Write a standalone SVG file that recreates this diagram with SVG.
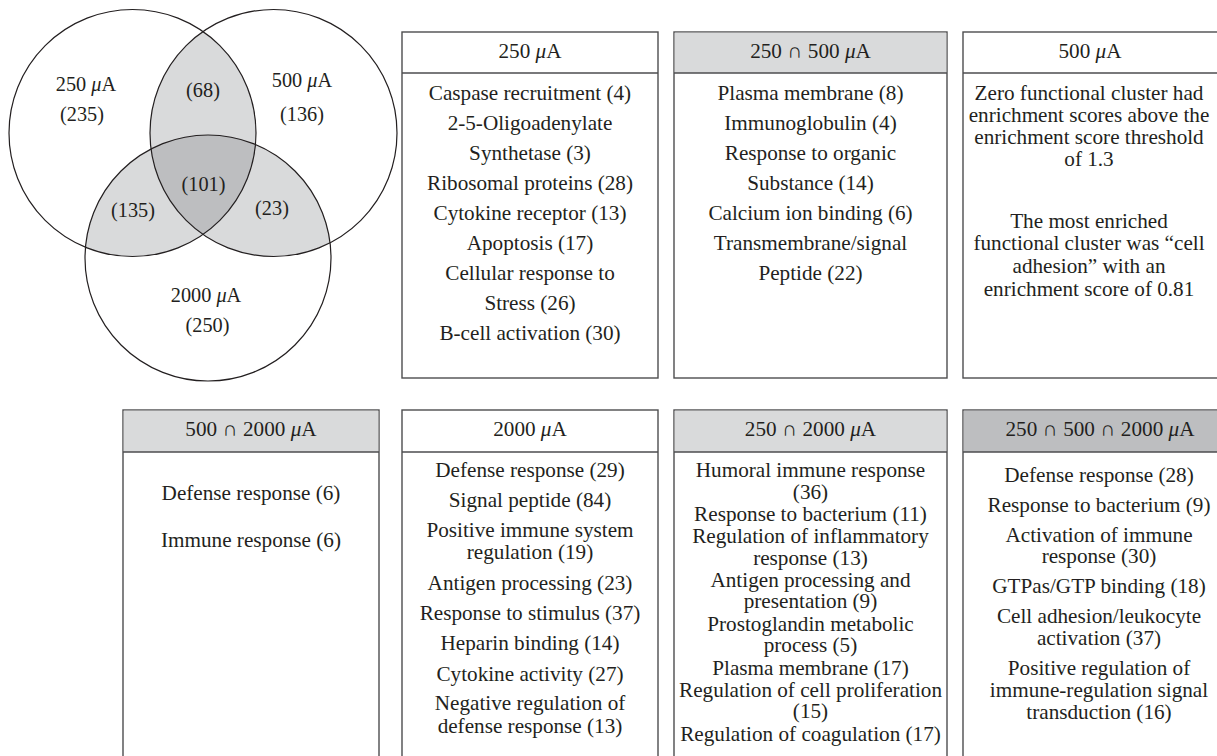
<svg xmlns="http://www.w3.org/2000/svg" width="1217" height="756" viewBox="0 0 1217 756">
<style>
text{font-family:"Liberation Serif","Times New Roman",serif;fill:#231f20;text-anchor:middle}
.v{font-size:20.3px}
.b{font-size:21.2px}
.box{fill:#fff;stroke:#4d4d4f;stroke-width:1.4}
.hd{stroke:#4d4d4f;stroke-width:1.4}
.l1{fill:#d9dadb}
.l2{fill:#bdbec0}
.ring{fill:none;stroke:#231f20;stroke-width:1.2}
</style>
<defs>
<clipPath id="k1"><circle cx="132.5" cy="133" r="123.5"/></clipPath>
<clipPath id="k2"><circle cx="273.5" cy="133" r="123.5"/></clipPath>
<clipPath id="k3"><circle cx="208" cy="258" r="123"/></clipPath>
</defs>
<rect width="1217" height="756" fill="#fff"/>
<g id="venn">
<g clip-path="url(#k1)"><circle class="l1" cx="273.5" cy="133" r="123.5"/><circle class="l1" cx="208" cy="258" r="123"/></g>
<g clip-path="url(#k2)"><circle class="l1" cx="208" cy="258" r="123"/></g>
<g clip-path="url(#k1)"><g clip-path="url(#k2)"><circle class="l2" cx="208" cy="258" r="123"/></g></g>
<circle class="ring" cx="132.5" cy="133" r="123.5"/>
<circle class="ring" cx="273.5" cy="133" r="123.5"/>
<circle class="ring" cx="208" cy="258" r="123"/>
<text class="v" x="86" y="91">250 <tspan font-style="italic">μ</tspan>A</text>
<text class="v" x="82" y="121">(235)</text>
<text class="v" x="302" y="87">500 <tspan font-style="italic">μ</tspan>A</text>
<text class="v" x="302" y="121">(136)</text>
<text class="v" x="203" y="97">(68)</text>
<text class="v" x="203.5" y="191">(101)</text>
<text class="v" x="133" y="217">(135)</text>
<text class="v" x="272" y="215">(23)</text>
<text class="v" x="206" y="302">2000 <tspan font-style="italic">μ</tspan>A</text>
<text class="v" x="207.5" y="332">(250)</text>
</g>
<g id="box250">
<rect class="box" x="402" y="32" width="256" height="346"/>
<line class="hd" x1="402" y1="73" x2="658" y2="73"/>
<g class="b">
<text x="530" y="58">250 <tspan font-style="italic">μ</tspan>A</text>
<text x="530" y="100">Caspase recruitment (4)</text>
<text x="530" y="130">2-5-Oligoadenylate</text>
<text x="530" y="160">Synthetase (3)</text>
<text x="530" y="190">Ribosomal proteins (28)</text>
<text x="530" y="220">Cytokine receptor (13)</text>
<text x="530" y="250">Apoptosis (17)</text>
<text x="530" y="280">Cellular response to</text>
<text x="530" y="310">Stress (26)</text>
<text x="530" y="340">B-cell activation (30)</text>
</g>
</g>
<g id="box250_500">
<rect class="box" x="674" y="32" width="273" height="346"/>
<rect class="l1" x="674.7" y="32.7" width="271.6" height="40.3"/>
<line class="hd" x1="674" y1="73" x2="947" y2="73"/>
<g class="b">
<text x="810.5" y="58">250 ∩ 500 <tspan font-style="italic">μ</tspan>A</text>
<text x="810.5" y="100">Plasma membrane (8)</text>
<text x="810.5" y="130">Immunoglobulin (4)</text>
<text x="810.5" y="160">Response to organic</text>
<text x="810.5" y="190">Substance (14)</text>
<text x="810.5" y="220">Calcium ion binding (6)</text>
<text x="810.5" y="250">Transmembrane/signal</text>
<text x="810.5" y="280">Peptide (22)</text>
</g>
</g>
<g id="box500">
<rect class="box" x="963" y="32" width="273" height="346"/>
<line class="hd" x1="963" y1="73" x2="1236" y2="73"/>
<g class="b">
<text x="1090" y="58">500 <tspan font-style="italic">μ</tspan>A</text>
<text x="1089" y="100">Zero functional cluster had</text>
<text x="1089" y="122">enrichment scores above the</text>
<text x="1089" y="144">enrichment score threshold</text>
<text x="1089" y="166">of 1.3</text>
<text x="1089" y="228">The most enriched</text>
<text x="1089" y="250">functional cluster was “cell</text>
<text x="1089" y="273">adhesion” with an</text>
<text x="1089" y="296">enrichment score of 0.81</text>
</g>
</g>
<g id="box500_2000">
<rect class="box" x="123" y="410" width="256" height="360"/>
<rect class="l1" x="123.7" y="410.7" width="254.6" height="41.3"/>
<line class="hd" x1="123" y1="452" x2="379" y2="452"/>
<g class="b">
<text x="251" y="436">500 ∩ 2000 <tspan font-style="italic">μ</tspan>A</text>
<text x="251" y="500">Defense response (6)</text>
<text x="251" y="547">Immune response (6)</text>
</g>
</g>
<g id="box2000">
<rect class="box" x="402" y="410" width="256" height="360"/>
<line class="hd" x1="402" y1="452" x2="658" y2="452"/>
<g class="b">
<text x="530" y="436">2000 <tspan font-style="italic">μ</tspan>A</text>
<text x="530" y="477">Defense response (29)</text>
<text x="530" y="507">Signal peptide (84)</text>
<text x="530" y="537">Positive immune system</text>
<text x="530" y="559">regulation (19)</text>
<text x="530" y="590">Antigen processing (23)</text>
<text x="530" y="620">Response to stimulus (37)</text>
<text x="530" y="650">Heparin binding (14)</text>
<text x="530" y="681">Cytokine activity (27)</text>
<text x="530" y="710">Negative regulation of</text>
<text x="530" y="733">defense response (13)</text>
</g>
</g>
<g id="box250_2000">
<rect class="box" x="674" y="410" width="273" height="360"/>
<rect class="l1" x="674.7" y="410.7" width="271.6" height="41.3"/>
<line class="hd" x1="674" y1="452" x2="947" y2="452"/>
<g class="b">
<text x="810.5" y="436">250 ∩ 2000 <tspan font-style="italic">μ</tspan>A</text>
<text x="810.5" y="477">Humoral immune response</text>
<text x="810.5" y="499">(36)</text>
<text x="810.5" y="521">Response to bacterium (11)</text>
<text x="810.5" y="543">Regulation of inflammatory</text>
<text x="810.5" y="565">response (13)</text>
<text x="810.5" y="587">Antigen processing and</text>
<text x="810.5" y="608">presentation (9)</text>
<text x="810.5" y="631">Prostoglandin metabolic</text>
<text x="810.5" y="652">process (5)</text>
<text x="810.5" y="675">Plasma membrane (17)</text>
<text x="810.5" y="697">Regulation of cell proliferation</text>
<text x="810.5" y="718">(15)</text>
<text x="810.5" y="741">Regulation of coagulation (17)</text>
</g>
</g>
<g id="box250_500_2000">
<rect class="box" x="963" y="410" width="273" height="360"/>
<rect class="l2" x="963.7" y="410.7" width="272" height="41.3"/>
<line class="hd" x1="963" y1="452" x2="1236" y2="452"/>
<g class="b">
<text x="1100" y="436">250 ∩ 500 ∩ 2000 <tspan font-style="italic">μ</tspan>A</text>
<text x="1099" y="482">Defense response (28)</text>
<text x="1099" y="512">Response to bacterium (9)</text>
<text x="1099" y="542">Activation of immune</text>
<text x="1099" y="563">response (30)</text>
<text x="1099" y="593">GTPas/GTP binding (18)</text>
<text x="1099" y="623">Cell adhesion/leukocyte</text>
<text x="1099" y="645">activation (37)</text>
<text x="1099" y="675">Positive regulation of</text>
<text x="1099" y="697">immune-regulation signal</text>
<text x="1099" y="719">transduction (16)</text>
</g>
</g>
<g id="connectors"/>
</svg>
